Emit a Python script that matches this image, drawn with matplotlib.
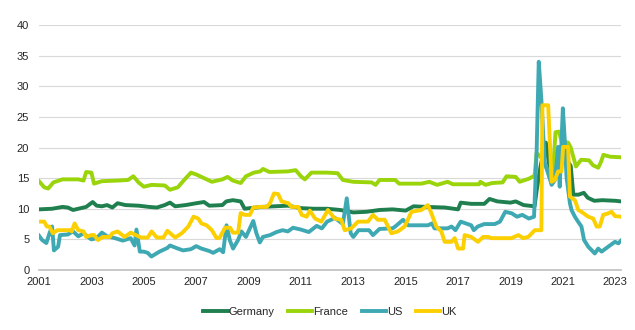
import matplotlib
matplotlib.use("Agg")
import matplotlib.pyplot as plt

# (year, value) pairs
germany = [(2001.0, 9.9), (2001.5, 10.0), (2001.9, 10.3), (2002.1, 10.2), (2002.3, 9.8),
           (2002.8, 10.3), (2003.05, 11.1), (2003.2, 10.5), (2003.4, 10.4), (2003.6, 10.6),
           (2003.8, 10.2), (2004.0, 10.9), (2004.3, 10.6), (2004.8, 10.5), (2005.2, 10.3),
           (2005.5, 10.2), (2005.8, 10.6), (2006.0, 11.0), (2006.2, 10.4), (2006.6, 10.6),
           (2007.0, 10.9), (2007.3, 11.1), (2007.5, 10.5), (2008.0, 10.6), (2008.15, 11.2),
           (2008.4, 11.4), (2008.7, 11.2), (2008.85, 10.0), (2009.5, 10.3), (2010.0, 10.4),
           (2010.5, 10.5), (2011.0, 10.1), (2011.5, 10.0), (2012.0, 10.0), (2012.5, 9.8),
           (2013.0, 9.4), (2013.5, 9.5), (2014.0, 9.8), (2014.5, 9.9), (2015.0, 9.7),
           (2015.3, 10.4), (2015.8, 10.3), (2016.5, 10.2), (2017.0, 9.9), (2017.1, 11.0),
           (2017.5, 10.8), (2018.0, 10.8), (2018.2, 11.6), (2018.5, 11.2), (2019.0, 11.0),
           (2019.2, 11.2), (2019.5, 10.6), (2019.92, 10.4), (2020.0, 13.0), (2020.15, 17.0),
           (2020.35, 20.8), (2020.45, 18.0), (2020.55, 15.0), (2020.7, 15.0), (2020.85, 18.0),
           (2021.0, 19.5), (2021.15, 18.0), (2021.3, 17.0), (2021.4, 12.3), (2021.6, 12.3),
           (2021.8, 12.6), (2021.95, 11.8), (2022.2, 11.3), (2022.5, 11.4), (2023.0, 11.3),
           (2023.22, 11.2)]

france = [(2001.0, 14.5), (2001.2, 13.5), (2001.35, 13.3), (2001.55, 14.3), (2001.9, 14.8),
          (2002.5, 14.8), (2002.7, 14.6), (2002.8, 16.0), (2003.0, 15.9), (2003.1, 14.1),
          (2003.4, 14.5), (2004.0, 14.6), (2004.4, 14.7), (2004.6, 15.3), (2004.8, 14.3),
          (2005.0, 13.6), (2005.3, 13.9), (2005.8, 13.8), (2006.0, 13.1), (2006.3, 13.5),
          (2006.5, 14.5), (2006.8, 15.9), (2007.0, 15.6), (2007.3, 15.0), (2007.6, 14.4),
          (2008.0, 14.8), (2008.2, 15.2), (2008.4, 14.6), (2008.7, 14.2), (2008.9, 15.3),
          (2009.2, 15.9), (2009.45, 16.1), (2009.55, 16.5), (2009.8, 16.0), (2010.5, 16.1),
          (2010.8, 16.3), (2011.0, 15.3), (2011.15, 14.8), (2011.4, 15.9), (2012.0, 15.9),
          (2012.4, 15.8), (2012.6, 14.7), (2013.0, 14.4), (2013.7, 14.3), (2013.85, 13.9),
          (2014.0, 14.7), (2014.6, 14.7), (2014.75, 14.1), (2015.6, 14.1), (2015.9, 14.4),
          (2016.2, 13.9), (2016.6, 14.4), (2016.8, 14.0), (2017.8, 14.0), (2017.85, 14.4),
          (2018.05, 13.9), (2018.3, 14.2), (2018.7, 14.3), (2018.85, 15.3), (2019.2, 15.2),
          (2019.35, 14.4), (2019.7, 14.9), (2019.92, 15.4), (2020.0, 19.1), (2020.15, 18.5),
          (2020.35, 17.0), (2020.5, 15.0), (2020.6, 14.5), (2020.72, 22.5), (2020.85, 22.6),
          (2020.95, 21.0), (2021.2, 20.8), (2021.3, 20.0), (2021.5, 16.9), (2021.7, 18.0),
          (2022.0, 17.9), (2022.15, 17.1), (2022.35, 16.7), (2022.45, 17.6), (2022.55, 18.8),
          (2022.8, 18.5), (2023.22, 18.4)]

us = [(2001.0, 5.6), (2001.12, 4.9), (2001.28, 4.4), (2001.4, 6.0), (2001.5, 7.1),
      (2001.57, 3.2), (2001.73, 3.8), (2001.8, 5.7), (2002.1, 5.8), (2002.3, 6.3),
      (2002.5, 5.5), (2002.7, 6.0), (2002.9, 5.3), (2003.0, 5.0), (2003.2, 5.2),
      (2003.4, 6.1), (2003.6, 5.5), (2003.9, 5.2), (2004.2, 4.8), (2004.5, 5.2),
      (2004.65, 4.0), (2004.72, 6.6), (2004.85, 3.0), (2005.0, 3.0), (2005.15, 2.8),
      (2005.29, 2.2), (2005.6, 3.0), (2005.9, 3.6), (2006.0, 4.0), (2006.3, 3.5),
      (2006.5, 3.2), (2006.8, 3.4), (2007.0, 3.9), (2007.2, 3.5), (2007.5, 3.1),
      (2007.65, 2.8), (2007.9, 3.4), (2008.03, 2.9), (2008.16, 7.3), (2008.29, 4.8),
      (2008.41, 3.5), (2008.6, 4.9), (2008.73, 6.3), (2008.9, 5.4), (2009.18, 8.0),
      (2009.3, 6.0), (2009.43, 4.5), (2009.55, 5.4), (2009.82, 5.7), (2010.07, 6.2),
      (2010.3, 6.5), (2010.5, 6.3), (2010.7, 6.9), (2011.0, 6.6), (2011.3, 6.2),
      (2011.6, 7.2), (2011.8, 6.8), (2012.0, 7.9), (2012.3, 8.5), (2012.6, 7.5),
      (2012.75, 11.7), (2012.9, 6.0), (2013.0, 5.4), (2013.2, 6.5), (2013.6, 6.5),
      (2013.75, 5.7), (2014.0, 6.7), (2014.5, 6.8), (2014.6, 7.1), (2014.9, 8.2),
      (2015.1, 7.3), (2015.85, 7.3), (2016.0, 7.6), (2016.1, 6.8), (2016.6, 6.8),
      (2016.75, 7.1), (2016.9, 6.5), (2017.1, 7.9), (2017.5, 7.3), (2017.6, 6.5),
      (2017.75, 7.1), (2018.0, 7.5), (2018.4, 7.5), (2018.6, 7.9), (2018.8, 9.5),
      (2019.05, 9.25), (2019.25, 8.7), (2019.45, 9.0), (2019.7, 8.4), (2019.9, 8.7),
      (2020.0, 19.6), (2020.08, 34.0), (2020.18, 27.8), (2020.31, 17.4), (2020.44, 15.8),
      (2020.57, 13.9), (2020.7, 14.7), (2020.82, 20.1), (2020.88, 13.6), (2021.0, 26.4),
      (2021.08, 20.7), (2021.14, 15.2), (2021.27, 10.9), (2021.33, 9.8), (2021.46, 8.7),
      (2021.58, 7.9), (2021.71, 7.1), (2021.81, 4.9), (2021.97, 3.8), (2022.22, 2.7),
      (2022.35, 3.5), (2022.48, 3.0), (2022.73, 3.8), (2022.99, 4.6), (2023.12, 4.35),
      (2023.22, 4.8)]

uk = [(2001.0, 7.9), (2001.2, 7.9), (2001.3, 7.1), (2001.4, 7.1), (2001.47, 6.5),
      (2001.53, 6.0), (2001.7, 6.5), (2002.2, 6.5), (2002.25, 6.3), (2002.36, 7.6),
      (2002.5, 6.5), (2002.7, 6.3), (2002.8, 5.4), (2003.0, 5.7), (2003.1, 5.7),
      (2003.25, 4.9), (2003.45, 5.4), (2003.7, 5.4), (2003.8, 6.0), (2004.0, 6.3),
      (2004.27, 5.4), (2004.5, 6.1), (2004.7, 5.7), (2004.9, 5.3), (2005.15, 5.3),
      (2005.3, 6.3), (2005.5, 5.3), (2005.75, 5.3), (2005.9, 6.4), (2006.2, 5.3),
      (2006.45, 6.0), (2006.7, 7.1), (2006.9, 8.7), (2007.08, 8.4), (2007.2, 7.6),
      (2007.4, 7.3), (2007.6, 6.5), (2007.78, 5.2), (2007.9, 5.3), (2008.1, 6.9),
      (2008.3, 6.9), (2008.4, 6.1), (2008.6, 6.1), (2008.7, 9.3), (2008.85, 9.0),
      (2009.05, 9.0), (2009.18, 10.2), (2009.43, 10.3), (2009.69, 10.3), (2009.82, 10.9),
      (2009.97, 12.5), (2010.13, 12.4), (2010.26, 11.2), (2010.52, 10.9), (2010.64, 10.3),
      (2010.9, 10.3), (2011.03, 9.0), (2011.22, 8.7), (2011.34, 9.7), (2011.54, 8.4),
      (2011.78, 7.9), (2012.03, 9.8), (2012.29, 8.4), (2012.54, 8.2), (2012.67, 6.5),
      (2012.92, 6.8), (2013.18, 7.9), (2013.56, 7.9), (2013.75, 9.0), (2013.94, 8.2),
      (2014.2, 8.2), (2014.45, 6.0), (2014.7, 6.3), (2014.96, 7.1), (2015.22, 9.5),
      (2015.6, 9.8), (2015.85, 10.6), (2015.98, 9.25), (2016.17, 7.1), (2016.36, 6.3),
      (2016.49, 4.6), (2016.75, 4.6), (2016.87, 5.2), (2017.0, 3.5), (2017.19, 3.5),
      (2017.25, 5.7), (2017.5, 5.4), (2017.76, 4.6), (2017.96, 5.4), (2018.15, 5.4),
      (2018.27, 5.2), (2019.04, 5.2), (2019.3, 5.7), (2019.48, 5.2), (2019.68, 5.4),
      (2019.93, 6.5), (2020.18, 6.5), (2020.22, 26.9), (2020.44, 26.9), (2020.5, 21.2),
      (2020.57, 14.4), (2020.69, 14.7), (2020.82, 16.1), (2020.95, 16.1), (2021.01, 20.1),
      (2021.2, 20.1), (2021.27, 12.0), (2021.46, 11.4), (2021.59, 9.8), (2021.71, 9.5),
      (2021.97, 8.7), (2022.16, 8.4), (2022.29, 7.1), (2022.41, 7.1), (2022.54, 9.0),
      (2022.73, 9.25), (2022.86, 9.5), (2022.99, 8.8), (2023.22, 8.7)]

series_names = ["Germany", "France", "US", "UK"]
colors = ["#1f7f4f", "#9ad40a", "#3fa9b3", "#fccf00"]
year_ticks = list(range(2001, 2024, 2))
y_ticks = list(range(0, 45, 5))

plt.rcParams["font.family"] = ["Liberation Sans", "DejaVu Sans"]

fig = plt.figure(figsize=(6.35, 3.3), dpi=100)
ax = fig.add_axes([39 / 635, 60 / 330, 582 / 635, 245 / 330])

for name, data, c in zip(series_names, [germany, france, us, uk], colors):
    xs = [p[0] for p in data]
    ys = [p[1] for p in data]
    ax.plot(xs, ys, color=c, lw=2.8, label=name, solid_joinstyle="round")

ax.set_xlim(2001, 2023.22)
ax.set_ylim(0, 40)
ax.set_xticks(year_ticks)
ax.set_yticks(y_ticks)
ax.tick_params(length=0, labelsize=8, colors="#262626")
ax.tick_params(axis="x", pad=5)
ax.tick_params(axis="y", pad=7)
ax.grid(axis="y", color="#d9d9d9", lw=0.8)
ax.set_axisbelow(True)
for s in ["top", "right", "left"]:
    ax.spines[s].set_visible(False)
ax.spines["bottom"].set_color("#bfbfbf")
ax.spines["bottom"].set_linewidth(1.2)

fig.legend(loc="center", bbox_to_anchor=(330 / 635, 0.055), ncol=4, frameon=False,
           fontsize=8, handlelength=2.2, handletextpad=0.1, columnspacing=1.2,
           labelcolor="#262626")

fig.savefig("out.png", dpi=100)
